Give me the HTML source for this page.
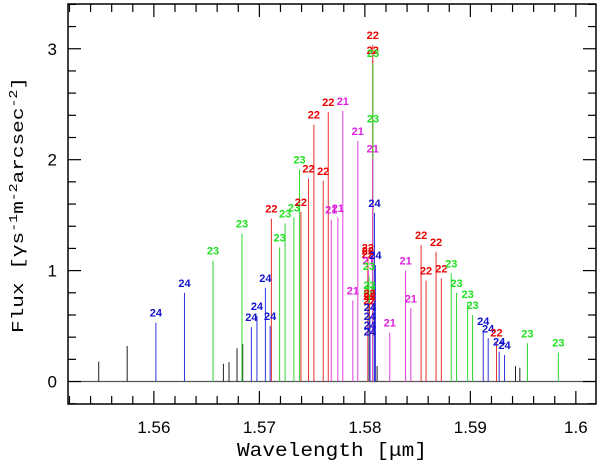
<!DOCTYPE html>
<html><head><meta charset="utf-8"><style>
html,body{margin:0;padding:0;background:#fff;}
svg{display:block;}
</style></head><body>
<svg id="chart" width="600" height="465" viewBox="0 0 600 465" xmlns="http://www.w3.org/2000/svg"></svg>
<script>
const wavelengths = [1.55477,1.55747,1.56019,1.56290,1.56561,1.56659,1.56712,1.56788,1.56842,1.56835,1.56924,1.56977,1.57057,1.57102,1.57114,1.57192,1.57244,1.57327,1.57381,1.57394,1.57466,1.57517,1.57605,1.57653,1.57681,1.57744,1.57791,1.57886,1.57933,
1.58029,1.58029,1.58029,1.58034,1.58039,1.58044,1.58044,1.58044,1.58044,1.58044,1.58048,1.58048,1.58048,1.58048,
1.58075,1.58075,1.58077,1.58077,1.58075,1.58091,1.58100,1.58116,
1.58236,1.58386,1.58436,1.58533,1.58580,1.58675,1.58725,1.58819,1.58869,1.58974,1.59021,1.59122,1.59169,1.59248,1.59273,1.59324,1.59428,1.59469,1.59541,1.59834];
const fluxes = [0.18,0.32,0.53,0.80,1.09,0.16,0.175,0.30,0.34,1.335,0.49,0.59,0.845,0.50,1.47,1.21,1.425,1.48,1.91,1.53,1.83,2.315,1.81,2.43,1.46,1.475,2.44,0.73,2.17,
1.12,1.09,1.06,1.00,0.95,0.78,0.74,0.71,0.68,0.64,0.58,0.50,0.42,0.36,
3.035,2.90,2.87,2.28,2.01,1.52,1.05,0.14,
0.44,1.00,0.66,1.23,0.91,1.17,0.93,0.975,0.80,0.70,0.60,0.455,0.39,0.35,0.27,0.24,0.14,0.125,0.345,0.26];
const lineLabels = ['','','24','24','23','','','','','23','24','24','24','24','22','23','23','23','23','22','22','22','22','22','21','21','21','21','21',
'22','22','22','21','23','23','23','22','22','22','24','24','24','24',
'22','22','23','23','21','24','24','',
'21','21','21','22','22','22','22','23','23','23','23','24','24','22','24','24','','','23','23'];
const xTicksMajor = [1.56,1.57,1.58,1.59,1.6];
const xTickLabels = ['1.56','1.57','1.58','1.59','1.6'];
const yTicksMajor = [0,1,2,3];
const yTickLabels = ['0','1','2','3'];

const X0=68,X1=596,Y0=4,Y1=404;
const xMin=1.55186,xMax=1.60191,yMin=-0.2025,yMax=3.4035;
function sx(v){return X0+(v-xMin)/(xMax-xMin)*(X1-X0);}
function sy(v){return Y1-(v-yMin)/(yMax-yMin)*(Y1-Y0);}
const colors={'21':'#e020e0','22':'#e80000','23':'#20e020','24':'#1010d0','':'#000000'};
const lineColors={'21':'#e040e0','22':'#e83030','23':'#30d830','24':'#3030e0','':'#202020'};
const NS='http://www.w3.org/2000/svg';
const svg=document.getElementById('chart');
function mk(tag,attrs,parent){const e=document.createElementNS(NS,tag);for(const k in attrs)e.setAttribute(k,attrs[k]);(parent||svg).appendChild(e);return e;}

const base=mk('line',{x1:X0,x2:X1,y1:sy(0),y2:sy(0),stroke:'#555',"stroke-width":1.2});



const gLines=mk('g',{});


for(let i=0;i<wavelengths.length;i++){
  const x=sx(wavelengths[i]);
  const l=mk('line',{x1:x,x2:x,y1:sy(0),y2:sy(fluxes[i]),stroke:lineColors[lineLabels[i]],"stroke-width":1},gLines);
  
  
}
for(let i=0;i<wavelengths.length;i++){
  if(!lineLabels[i])continue;
  const x=sx(wavelengths[i]);
  const t=mk('text',{x:x,y:sy(fluxes[i])-6,"text-anchor":"middle","font-family":"Liberation Sans, sans-serif","font-size":11,"font-weight":"bold",fill:colors[lineLabels[i]]},gLines);
  t.textContent=lineLabels[i];
  
  
}

const frame=mk('rect',{x:X0,y:Y0,width:X1-X0,height:Y1-Y0,fill:'none',stroke:'#000',"stroke-width":1.5});



const gx=mk('g',{});


for(let k=0;k<=25;k++){
  const v=1.552+k*0.002; if(v>xMax)break;
  const major=xTicksMajor.some(m=>Math.abs(m-v)<1e-6);
  const len=major?13:8, x=sx(v);
  mk('line',{x1:x,x2:x,y1:Y1,y2:Y1-len,stroke:'#000',"stroke-width":1.2},gx);
  mk('line',{x1:x,x2:x,y1:Y0,y2:Y0+len,stroke:'#000',"stroke-width":1.2},gx);
}
xTicksMajor.forEach((v,i)=>{
  const t=mk('text',{x:sx(v),y:433,"text-anchor":"middle","font-family":"Liberation Sans, sans-serif","font-size":17},gx);
  t.textContent=xTickLabels[i];
  
  
});
const xt=mk('text',{x:332,y:456,"text-anchor":"middle","font-family":"Liberation Mono, monospace","font-size":19,textLength:190,lengthAdjust:"spacingAndGlyphs"});
xt.textContent='Wavelength [μm]';



const gy=mk('g',{});


for(let k=-1;k<=17;k++){
  const v=k*0.2; if(v<yMin||v>yMax)continue;
  const major=yTicksMajor.some(m=>Math.abs(m-v)<1e-6);
  const len=major?13:8, y=sy(v);
  mk('line',{x1:X0,x2:X0+len,y1:y,y2:y,stroke:'#000',"stroke-width":1.2},gy);
  mk('line',{x1:X1,x2:X1-len,y1:y,y2:y,stroke:'#000',"stroke-width":1.2},gy);
}
yTicksMajor.forEach((v,i)=>{
  const t=mk('text',{x:57,y:sy(v)+6,"text-anchor":"end","font-family":"Liberation Sans, sans-serif","font-size":17},gy);
  t.textContent=yTickLabels[i];
  
  
});
const yt=mk('text',{x:0,y:0,"text-anchor":"middle","font-family":"Liberation Mono, monospace","font-size":17,transform:"translate(23,205) rotate(-90)",textLength:256,lengthAdjust:"spacingAndGlyphs"});
yt.innerHTML='Flux [γs<tspan dy="-6" font-size="12">-1</tspan><tspan dy="6">m</tspan><tspan dy="-6" font-size="12">-2</tspan><tspan dy="6">arcsec</tspan><tspan dy="-6" font-size="12">-2</tspan><tspan dy="6">]</tspan>';


</script>
</body></html>
